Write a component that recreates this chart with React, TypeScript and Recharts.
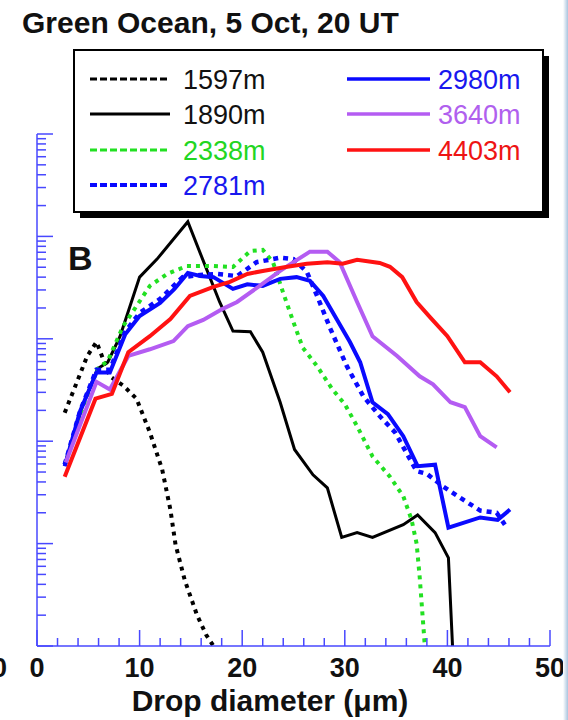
import React from 'react';
import { LineChart, Line, XAxis, YAxis, Legend } from 'recharts';

// ---- data (drop diameter in µm, concentration on a log scale) ----
const x1597 = [2.7, 3.9, 4.9, 5.8, 7.1, 8.4, 9.7, 11.0, 12.2, 13.0, 13.5, 14.4, 15.6, 16.5, 17.2];
const y1597 = [1.9, 3.8, 6.8, 9.3, 4.3, 3.5, 2.6, 1.22, 0.53, 0.215, 0.098, 0.044, 0.02, 0.0128, 0.01];

const x1890 = [2.7, 4.5, 5.9, 6.9, 8.1, 10.0, 11.7, 14.7, 16.4, 17.8, 19.1, 20.8, 22.0, 23.7, 25.1, 26.9, 28.3, 29.7, 31.2, 32.7, 35.7, 37.1, 38.8, 40.1, 40.5];
const y1890 = [0.59, 2.3, 5.1, 5.9, 10.6, 40, 60, 139, 51.5, 22.9, 11.9, 11.7, 7.4, 2.4, 0.83, 0.47, 0.35, 0.115, 0.128, 0.115, 0.153, 0.19, 0.128, 0.0726, 0.01];

const x2338 = [2.7, 4.5, 5.9, 6.9, 8.4, 9.7, 11.0, 12.7, 14.6, 17.2, 19.1, 20.8, 22.0, 23.0, 24.0, 25.0, 25.9, 27.3, 28.8, 30.0, 31.2, 32.7, 34.4, 35.7, 36.5, 37.0, 37.3, 37.8];
const y2338 = [0.59, 2.2, 5.1, 6.1, 13.3, 20.9, 32.9, 43, 51.5, 51.5, 50.3, 72, 74, 56, 28, 14.5, 8.2, 5.4, 3.2, 2.3, 1.4, 0.71, 0.45, 0.29, 0.172, 0.1, 0.047, 0.01];

const x2781 = [2.7, 4.2, 5.8, 7.1, 8.6, 10.0, 12.0, 14.2, 15.9, 17.5, 19.5, 21.4, 23.7, 25.0, 26.3, 27.3, 28.6, 30.2, 31.8, 33.4, 34.9, 37.0, 38.0, 39.6, 41.5, 43.2, 44.8, 45.6];
const y2781 = [0.59, 1.97, 5.0, 5.0, 11.7, 17.9, 24.5, 40, 42, 43, 41, 56, 62, 60, 45, 26.2, 12.5, 5.4, 2.75, 1.76, 1.22, 0.51, 0.48, 0.36, 0.27, 0.21, 0.2, 0.153];

const x2980 = [2.7, 4.2, 5.8, 7.1, 8.6, 10.0, 12.0, 13.4, 14.7, 15.9, 17.2, 19.1, 20.5, 22.0, 23.7, 25.3, 26.6, 27.9, 29.2, 30.5, 31.5, 32.7, 34.2, 35.7, 37.1, 38.8, 40.1, 43.2, 44.9, 46.1];
const y2980 = [0.57, 1.97, 4.7, 4.7, 11.1, 16.7, 22.4, 30.7, 44, 41, 40, 30.7, 34, 32.9, 38.5, 40, 36.8, 26.2, 15.6, 9.3, 5.9, 2.4, 1.84, 1.12, 0.57, 0.59, 0.143, 0.18, 0.17, 0.215];

const x3640 = [2.8, 5.8, 7.1, 8.9, 11.0, 13.3, 14.7, 16.2, 18.1, 19.5, 21.7, 23.7, 25.0, 26.6, 28.3, 29.5, 31.2, 32.7, 35.1, 37.3, 38.6, 40.3, 41.7, 43.2, 44.8];
const y3640 = [0.62, 3.8, 3.2, 6.8, 7.9, 9.5, 13.3, 15.3, 19.6, 22.9, 32.9, 46, 56, 71, 71, 56, 22.9, 10.6, 6.8, 4.3, 3.6, 2.4, 2.15, 1.12, 0.87];

const x4403 = [2.7, 5.7, 7.3, 8.9, 11.0, 13.0, 14.9, 17.2, 18.8, 20.5, 22.0, 24.4, 26.3, 28.3, 29.8, 31.2, 33.4, 34.4, 35.6, 37.0, 38.3, 40.0, 41.7, 43.2, 44.8, 46.1];
const y4403 = [0.45, 2.6, 2.9, 7.4, 10.6, 15.6, 26.2, 32.1, 36, 43, 46, 50.5, 54, 56, 54, 59, 55, 50.5, 40, 22.9, 16.3, 10.6, 5.9, 5.9, 4.3, 3.0];

const seriesNames = ['1597m', '1890m', '2338m', '2781m', '2980m', '3640m', '4403m'];
const seriesX = [x1597, x1890, x2338, x2781, x2980, x3640, x4403];
const seriesY = [y1597, y1890, y2338, y2781, y2980, y3640, y4403];

const xTickLabels = [0, 10, 20, 30, 40, 50];
const titleText = 'Green Ocean, 5 Oct, 20 UT';
const xAxisTitle = 'Drop diameter (\u03bcm)';
const panelLetter = 'B';

// ---- styles ----
const lineColors = ['#000000', '#000000', '#22e022', '#0a0aff', '#0a0aff', '#b45cf2', '#ff1212'];
const textColors = ['#111111', '#111111', '#22d622', '#1818ee', '#1818ee', '#b060ee', '#ee1414'];
const lineDash = ['4 5', undefined, '4 5', '5 5', undefined, undefined, undefined];
const lineWidth = [4, 3, 4, 4.5, 4, 4, 4];
const legendDash = ['7 3', undefined, '7 3', '7 3', undefined, undefined, undefined];
const legendWidth = [3, 3, 3, 4, 3.5, 3.5, 3.5];

const AXIS = '#4848ff';
const FONT = '"Liberation Sans", Arial, Helvetica, sans-serif';

const xTicks: number[] = [];
for (let v = 0; v <= 50; v += 2) xTicks.push(v);
const yTicks: number[] = [];
for (let d = -2; d <= 2; d++) {
  for (let m = 1; m <= 9; m++) yTicks.push(Number((m * Math.pow(10, d)).toPrecision(3)));
}
yTicks.push(1000);

const isMajorLog = (v: number) => {
  const e = Math.round(Math.log10(v));
  return Math.abs(v - Math.pow(10, e)) < 1e-9 * Math.pow(10, e);
};

const BottomTick = (props: any) => {
  const { x, y, payload } = props;
  const v = payload.value;
  const major = xTickLabels.includes(v);
  return (
    <g>
      <line x1={x} y1={y} x2={x} y2={y - (major ? 16 : 8)} stroke={AXIS} strokeWidth={1.5} />
      {major && (
        <text x={x} y={y + 31} textAnchor="middle" fontFamily={FONT} fontWeight="bold" fontSize={27} fill="#111">
          {v}
        </text>
      )}
    </g>
  );
};
const TopTick = (props: any) => {
  const { x, y, payload } = props;
  const major = xTickLabels.includes(payload.value);
  return <line x1={x} y1={y} x2={x} y2={y + (major ? 16 : 8)} stroke={AXIS} strokeWidth={1.5} />;
};
const LeftTick = (props: any) => {
  const { x, y, payload } = props;
  const major = isMajorLog(payload.value);
  return <line x1={x} y1={y} x2={x + (major ? 16 : 9)} y2={y} stroke={AXIS} strokeWidth={1.5} />;
};
const RightTick = (props: any) => {
  const { x, y, payload } = props;
  const major = isMajorLog(payload.value);
  return <line x1={x} y1={y} x2={x - (major ? 16 : 9)} y2={y} stroke={AXIS} strokeWidth={1.5} />;
};

const LegendBox = () => {
  const rowsY = [30, 65, 101, 136];
  return (
    <svg width={478} height={171} style={{ display: 'block' }}>
      <rect x={7} y={7} width={469} height={162} fill="#000" />
      <rect x={1} y={1} width={469} height={162} fill="#fff" stroke="#000" strokeWidth={2} />
      {seriesNames.map((name, i) => {
        const col = i < 4 ? 0 : 1;
        const row = i < 4 ? i : i - 4;
        const cy = rowsY[row];
        const lx1 = col === 0 ? 17 : 274;
        const lx2 = col === 0 ? 97 : 357;
        const tx = col === 0 ? 110 : 365;
        return (
          <g key={name}>
            <line x1={lx1} y1={cy} x2={lx2} y2={cy} stroke={lineColors[i]} strokeWidth={legendWidth[i]} strokeDasharray={legendDash[i]} />
            <text x={tx} y={cy + 10} fontFamily={FONT} fontSize={27} fill={textColors[i]}>
              {name}
            </text>
          </g>
        );
      })}
    </svg>
  );
};

export default function App() {
  return (
    <div style={{ position: 'absolute', left: 0, top: 0, width: 568, height: 720, background: '#fff', overflow: 'hidden' }}>
      <LineChart width={568} height={720} margin={{ top: 134, right: 18, bottom: 0, left: 0 }}>
        <XAxis
          xAxisId="b"
          dataKey="x"
          type="number"
          domain={[0, 50]}
          ticks={xTicks}
          interval={0}
          height={74}
          tickSize={0}
          tickMargin={0}
          tickLine={false}
          tick={<BottomTick />}
          axisLine={{ stroke: AXIS, strokeWidth: 1.5 }}
          allowDataOverflow
        />
        <XAxis
          xAxisId="t"
          orientation="top"
          dataKey="x"
          type="number"
          domain={[0, 50]}
          ticks={xTicks}
          interval={0}
          height={0}
          tickSize={0}
          tickMargin={0}
          tickLine={false}
          tick={<TopTick />}
          axisLine={{ stroke: AXIS, strokeWidth: 1.5 }}
          allowDataOverflow
        />
        <YAxis
          yAxisId="l"
          dataKey="y"
          type="number"
          scale="log"
          domain={[0.01, 1000]}
          ticks={yTicks}
          interval={0}
          width={37}
          tickSize={0}
          tickMargin={0}
          tickLine={false}
          tick={<LeftTick />}
          axisLine={{ stroke: AXIS, strokeWidth: 1.5 }}
          allowDataOverflow
        />
        <YAxis
          yAxisId="r"
          orientation="right"
          dataKey="y"
          type="number"
          scale="log"
          domain={[0.01, 1000]}
          ticks={yTicks}
          interval={0}
          width={0}
          tickSize={0}
          tickMargin={0}
          tickLine={false}
          tick={<RightTick />}
          axisLine={{ stroke: AXIS, strokeWidth: 1.5 }}
          allowDataOverflow
        />
        {seriesNames.map((name, i) => (
          <Line
            key={name}
            name={name}
            xAxisId="b"
            yAxisId="l"
            data={seriesX[i].map((x, j) => ({ x, y: seriesY[i][j] }))}
            dataKey="y"
            type="linear"
            stroke={lineColors[i]}
            strokeWidth={lineWidth[i]}
            strokeDasharray={lineDash[i]}
            dot={false}
            activeDot={false}
            isAnimationActive={false}
          />
        ))}
        <Legend
          layout="vertical"
          align="center"
          verticalAlign="middle"
          content={<LegendBox />}
          wrapperStyle={{ left: 73, top: 49, width: 478, height: 171 }}
        />
      </LineChart>
      <svg width={568} height={720} style={{ position: 'absolute', left: 0, top: 0, pointerEvents: 'none' }}>
        <defs>
          <linearGradient id="edge" x1="0" x2="1" y1="0" y2="0">
            <stop offset="0" stopColor="#ffffff" />
            <stop offset="1" stopColor="#a9c4de" />
          </linearGradient>
        </defs>
        <text x={22} y={33} fontFamily={FONT} fontWeight="bold" fontSize={30} fill="#111">
          {titleText}
        </text>
        <text x={68} y={270} fontFamily={FONT} fontWeight="bold" fontSize={34} fill="#111">
          {panelLetter}
        </text>
        <text x={270} y={711} textAnchor="middle" fontFamily={FONT} fontWeight="bold" fontSize={30} fill="#111">
          {xAxisTitle}
        </text>
        <text x={-8} y={677} fontFamily={FONT} fontWeight="bold" fontSize={27} fill="#111">
          0
        </text>
        <rect x={563} y={0} width={5} height={720} fill="url(#edge)" />
      </svg>
    </div>
  );
}
